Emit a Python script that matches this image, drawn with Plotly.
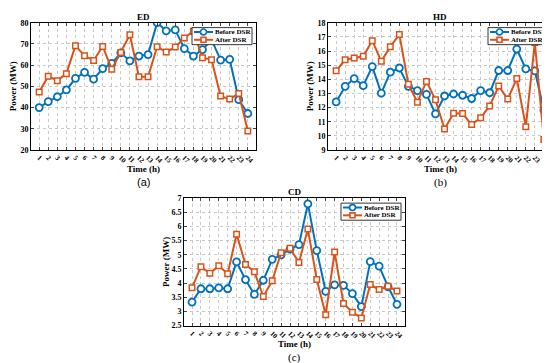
import plotly.graph_objects as go

hours = list(range(1, 25))
hour_labels = [str(h) for h in hours]

ed_before = [40, 42.8, 45.1, 48.3, 53.8, 56.6, 53.4, 58.4, 60.8, 65.8, 62, 64.3,
             65, 80, 76.2, 76.6, 67.8, 64.3, 67.3, 72, 62.4, 62.7, 43.7, 37.2]
ed_after = [47.3, 54.8, 52.7, 56, 69.2, 64.4, 62.2, 68.8, 58.1, 66, 74.3, 54.5,
            54.5, 68.7, 66.2, 68.5, 72.8, 76, 63.5, 62.6, 45.4, 44, 46.6, 29]

hd_before = [12.4, 13.5, 14.05, 13.55, 14.9, 13.02, 14.5, 14.8, 13.5, 13.2, 12.93, 11.56,
             12.82, 12.96, 12.87, 12.64, 13.2, 13.05, 14.62, 14.62, 16.14, 14.73, 14.6, 11.82]
hd_after = [14.6, 15.38, 15.5, 15.63, 16.73, 15.27, 16.31, 17.16, 13.65, 12.38, 13.85, 12.55,
            10.48, 11.6, 11.58, 10.8, 11.28, 12.12, 13.52, 12.6, 14.05, 10.65, 16.6, 9.75]

cd_before = [3.33, 3.8, 3.8, 3.83, 3.8, 4.75, 4.12, 3.6, 4.1, 4.84, 5.0, 5.2,
             5.36, 6.8, 5.15, 3.71, 3.94, 3.92, 3.63, 3.17, 4.76, 4.6, 3.87, 3.25]
cd_after = [3.84, 4.58, 4.35, 4.61, 4.33, 5.73, 4.66, 4.4, 3.53, 4.08, 5.07, 5.23,
            4.73, 5.91, 4.13, 2.88, 5.1, 3.28, 2.97, 2.77, 3.95, 3.77, 3.89, 3.72]

series_names = ["Before DSR", "After DSR"]

panels = [
    ("ED", ed_before, ed_after, [20, 30, 40, 50, 60, 70, 80], [20, 80], "(a)"),
    ("HD", hd_before, hd_after, list(range(9, 19)), [9, 18], "(b)"),
    ("CD", cd_before, cd_after, [2.5, 3, 3.5, 4, 4.5, 5, 5.5, 6, 6.5, 7], [2.5, 7], "(c)"),
]

W, H = 550, 363
# pixel boxes: left, right, top, bottom
boxes = [(23, 248, 11, 141.5), (320, 544, 11, 141.5), (176, 397, 191, 321.5)]

BLUE = "#0072BD"
ORANGE = "#D95319"
FONT = "Liberation Serif"


def px(x):
    return x / W


def py(y):
    return 1 - y / H


fig = go.Figure()
layout = dict(width=W, height=H, margin=dict(l=0, r=0, t=0, b=0),
              plot_bgcolor="white", paper_bgcolor="white", showlegend=False,
              font=dict(family=FONT, color="black"))
annotations = []
shapes = []

for i, ((name, before, after, yticks, yr, tag), (l, r, t, b)) in enumerate(zip(panels, boxes)):
    sfx = "" if i == 0 else str(i + 1)
    xa, ya = "x" + sfx, "y" + sfx
    fig.add_trace(go.Scatter(x=hours, y=before, name=series_names[0], xaxis=xa, yaxis=ya,
                             mode="lines+markers",
                             line=dict(color=BLUE, width=2),
                             marker=dict(symbol="circle", size=7, color="white",
                                         line=dict(color=BLUE, width=1.8))))
    fig.add_trace(go.Scatter(x=hours, y=after, name=series_names[1], xaxis=xa, yaxis=ya,
                             mode="lines+markers",
                             line=dict(color=ORANGE, width=2),
                             marker=dict(symbol="square", size=5.5, color="white",
                                         line=dict(color=ORANGE, width=1.5))))
    xd = [px(l), px(r)]
    yd = [py(b), py(t)]
    common = dict(ticks="inside", ticklen=3, showline=True, linecolor="black", linewidth=1,
                  mirror="ticks", showgrid=True, gridcolor="#c8c8c8", griddash="dot",
                  gridwidth=1, zeroline=False)
    layout["xaxis" + sfx] = dict(domain=xd, anchor=ya, range=[0.1, 24.9],
                                 tickvals=hours, ticktext=hour_labels, tickangle=45,
                                 tickfont=dict(size=7, family=FONT, weight="bold"), **common)
    layout["yaxis" + sfx] = dict(domain=yd, anchor=xa, range=yr,
                                 tickvals=yticks, tickfont=dict(size=8, family=FONT, weight="bold"),
                                 **common)
    cx = (xd[0] + xd[1]) / 2
    annotations.append(dict(text="<b>%s</b>" % name, x=cx, y=yd[1], xref="paper", yref="paper",
                            xanchor="center", yanchor="bottom", showarrow=False,
                            font=dict(size=9, family=FONT), yshift=-1))
    annotations.append(dict(text="<b>Time (h)</b>", x=cx, y=py(b + 19), xref="paper", yref="paper",
                            xanchor="center", yanchor="middle", showarrow=False,
                            font=dict(size=9, family=FONT)))
    annotations.append(dict(text=tag, x=cx, y=py(b + 33), xref="paper", yref="paper",
                            xanchor="center", yanchor="middle", showarrow=False,
                            font=dict(size=11, family=FONT if tag != "(a)" else "Liberation Sans")))
    annotations.append(dict(text="<b>Power (MW)</b>", x=px(l - 18), y=(yd[0] + yd[1]) / 2,
                            xref="paper", yref="paper", xanchor="center", yanchor="middle",
                            textangle=-90, showarrow=False, font=dict(size=9, family=FONT)))

    # compact legend box (top-right, inside the axes)
    lw, lh = 60, 17.5
    lx1 = r - 4
    lx0 = lx1 - lw
    ly0 = t + 5
    ly1 = ly0 + lh
    shapes.append(dict(type="rect", xref="paper", yref="paper", layer="above",
                       x0=px(lx0), x1=px(lx1), y0=py(ly1), y1=py(ly0),
                       fillcolor="white", line=dict(color="black", width=0.8)))
    rows = [ly0 + 4.5, ly0 + 12.5]
    for row_y, col, sym, label in zip(rows, [BLUE, ORANGE], ["circle", "rect"], series_names):
        shapes.append(dict(type="line", xref="paper", yref="paper", layer="above",
                           x0=px(lx0 + 2), x1=px(lx0 + 21), y0=py(row_y), y1=py(row_y),
                           line=dict(color=col, width=2)))
        mx = lx0 + 11.5
        rad = 3 if sym == "circle" else 2.5
        shapes.append(dict(type=sym, xref="paper", yref="paper", layer="above",
                           x0=px(mx - rad), x1=px(mx + rad), y0=py(row_y + rad), y1=py(row_y - rad),
                           fillcolor="white", line=dict(color=col, width=1.6)))
        annotations.append(dict(text="<b>%s</b>" % label, x=px(lx0 + 22), y=py(row_y),
                                xref="paper", yref="paper", xanchor="left", yanchor="middle",
                                showarrow=False, borderpad=0,
                                font=dict(size=7, family=FONT)))

layout["annotations"] = annotations
layout["shapes"] = shapes
fig.update_layout(**layout)
fig.write_html("out.html")
